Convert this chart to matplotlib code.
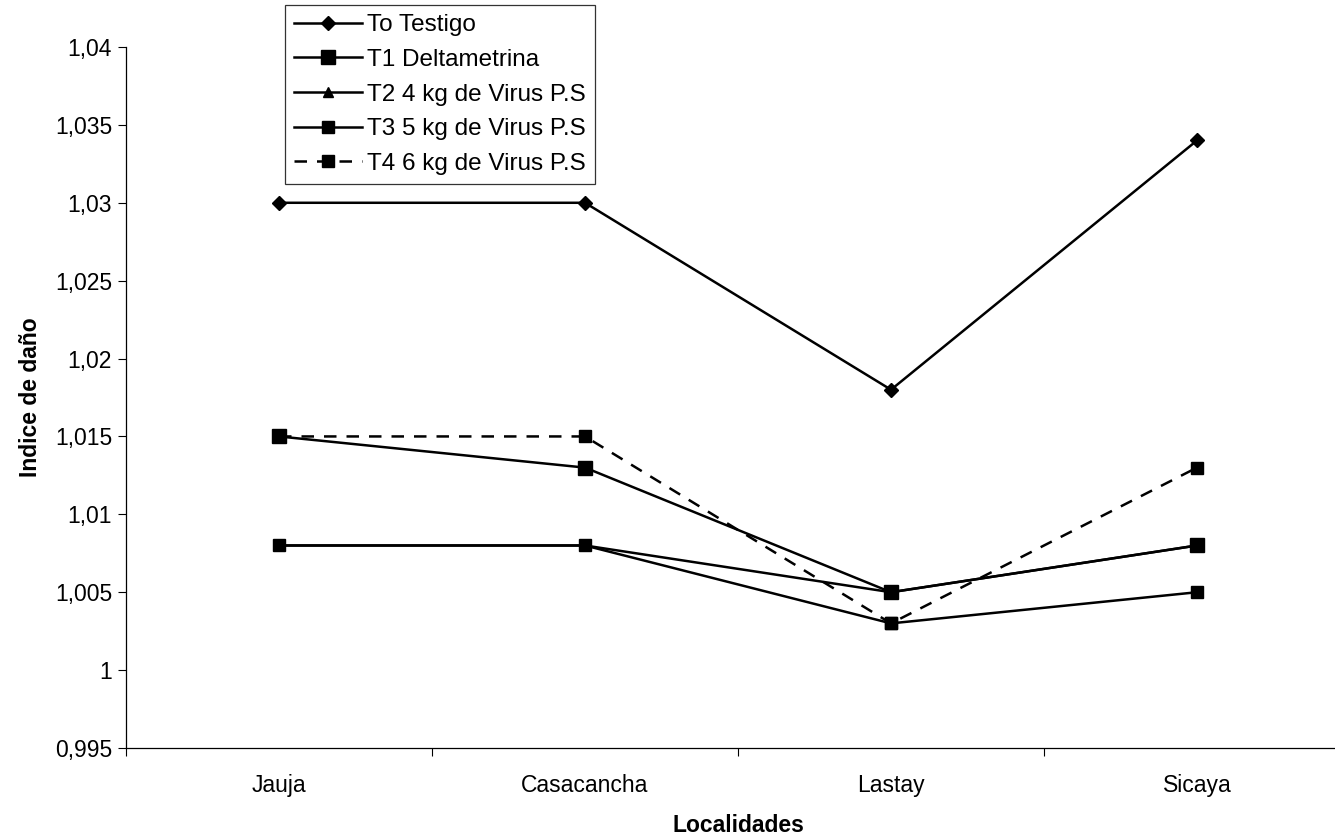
import numpy as np
import matplotlib.pyplot as plt
from matplotlib.ticker import FuncFormatter, MultipleLocator, FixedLocator

plt.rcParams['font.family'] = ['Liberation Sans', 'DejaVu Sans']

# localidades y tratamientos
localidades = ['Jauja', 'Casacancha', 'Lastay', 'Sicaya']
t0 = [1.030, 1.030, 1.018, 1.034]
t1 = [1.015, 1.013, 1.005, 1.008]
t2 = [1.008, 1.008, 1.005, 1.008]
t3 = [1.008, 1.008, 1.003, 1.005]
t4 = [1.015, 1.015, 1.003, 1.013]

fs = 16.5
lw = 1.8

fig = plt.figure(figsize=(13.35, 8.38), dpi=100)
ax = fig.add_axes([126/1335, 90/838, (1350-126)/1335, (748-47)/838])

x = np.arange(len(localidades))
# T2 queda debajo de los cuadrados
ax.plot(x, t2, '-^', color='black', lw=lw, ms=7, label='T2 4 kg de Virus P.S', zorder=2)
ax.plot(x, t0, '-D', color='black', lw=lw, ms=7, label='To Testigo', zorder=3)
ax.plot(x, t1, '-s', color='black', lw=lw, ms=9.5, label='T1 Deltametrina', zorder=3)
ax.plot(x, t3, '-s', color='black', lw=lw, ms=9, label='T3 5 kg de Virus P.S', zorder=3)
ax.plot(x, t4, '--s', color='black', lw=lw, ms=9, dashes=(5, 4), label='T4 6 kg de Virus P.S', zorder=3)

ax.set_xlim(-0.5, 3.5)
ax.set_ylim(0.995, 1.04)
ax.yaxis.set_major_locator(MultipleLocator(0.005))
ax.yaxis.set_major_formatter(FuncFormatter(lambda v, p: ('%g' % round(v, 3)).replace('.', ',')))
ax.set_xticks(x)
ax.set_xticklabels(localidades)
ax.xaxis.set_minor_locator(FixedLocator([-0.5, 0.5, 1.5, 2.5]))
ax.tick_params(axis='x', which='major', length=0, pad=19, labelsize=fs)
ax.tick_params(axis='x', which='minor', length=6, width=0.8)
ax.tick_params(axis='y', length=6, width=0.8, labelsize=fs, pad=4)

ax.spines['top'].set_visible(False)
ax.spines['right'].set_visible(False)
ax.spines['left'].set_linewidth(0.9)
ax.spines['bottom'].set_linewidth(0.9)

ax.set_xlabel('Localidades', fontsize=fs, fontweight='bold', va='center')
ax.set_ylabel('Indice de daño', fontsize=fs, fontweight='bold', va='center')
ax.xaxis.set_label_coords(0.5, (748 - 825) / 701)
ax.yaxis.set_label_coords((30 - 126) / 1224, 0.5)

handles, labels = ax.get_legend_handles_labels()
order = [1, 2, 0, 3, 4]
leg = ax.legend([handles[i] for i in order], [labels[i] for i in order],
                loc='upper left', bbox_to_anchor=(285/1335, 833/838),
                bbox_transform=fig.transFigure, fontsize=17.5, frameon=True,
                fancybox=False, edgecolor='black', handlelength=2.8,
                handletextpad=0.2, labelspacing=0.52, borderpad=0.38,
                borderaxespad=0)
leg.get_frame().set_linewidth(0.9)

fig.savefig('out.png', dpi=100)
